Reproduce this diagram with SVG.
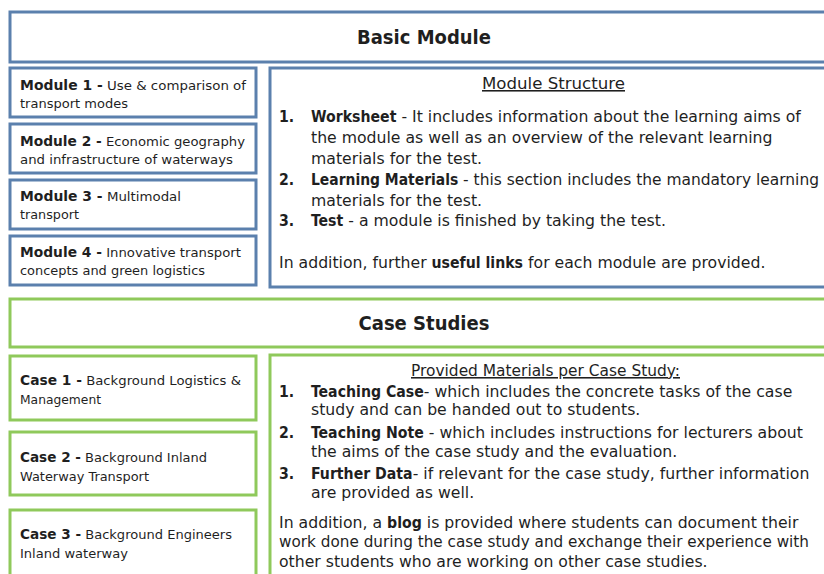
<svg xmlns="http://www.w3.org/2000/svg" width="824" height="574" viewBox="0 0 824 574">
<style>
text{font-family:"DejaVu Sans",sans-serif;fill:#1f1f1f}
.blue{fill:#fff;stroke:#5b80ad;stroke-width:3}
.green{fill:#fff;stroke:#8fc95b;stroke-width:3}
.title{font-family:"DejaVu Sans Condensed","DejaVu Sans",sans-serif;font-stretch:condensed;font-size:20px;font-weight:bold}
.lbl{font-size:12.5px}
.lb{font-family:"DejaVu Sans Condensed","DejaVu Sans",sans-serif;font-stretch:condensed;font-size:14.5px;font-weight:bold}
.body{font-size:15.7px}
.b{font-family:"DejaVu Sans Condensed","DejaVu Sans",sans-serif;font-stretch:condensed;font-weight:bold}
.u{text-decoration:underline}
</style>
<rect width="824" height="574" fill="#fff"/>
<g id="basic-module">
<rect class="blue" x="10" y="12" width="830" height="50"/>
<text class="title" x="424" y="44" text-anchor="middle">Basic Module</text>
</g>
<g id="module-1">
<rect class="blue" x="10" y="68" width="246" height="49"/>
<text class="lbl" x="20" y="90" textLength="226" lengthAdjust="spacingAndGlyphs"><tspan class="lb">Module 1 -</tspan> Use &amp; comparison of</text>
<text class="lbl" x="20" y="108" textLength="108" lengthAdjust="spacingAndGlyphs">transport modes</text>
</g>
<g id="module-2">
<rect class="blue" x="10" y="124" width="246" height="49"/>
<text class="lbl" x="20" y="146" textLength="225" lengthAdjust="spacingAndGlyphs"><tspan class="lb">Module 2 -</tspan> Economic geography</text>
<text class="lbl" x="20" y="164" textLength="213" lengthAdjust="spacingAndGlyphs">and infrastructure of waterways</text>
</g>
<g id="module-3">
<rect class="blue" x="10" y="180" width="246" height="49"/>
<text class="lbl" x="20" y="201" textLength="161" lengthAdjust="spacingAndGlyphs"><tspan class="lb">Module 3 -</tspan> Multimodal</text>
<text class="lbl" x="20" y="219" textLength="59" lengthAdjust="spacingAndGlyphs">transport</text>
</g>
<g id="module-4">
<rect class="blue" x="10" y="236" width="246" height="49"/>
<text class="lbl" x="20" y="257" textLength="221" lengthAdjust="spacingAndGlyphs"><tspan class="lb">Module 4 -</tspan> Innovative transport</text>
<text class="lbl" x="20" y="275" textLength="185" lengthAdjust="spacingAndGlyphs">concepts and green logistics</text>
</g>
<g id="module-structure">
<rect class="blue" x="270" y="68" width="570" height="219"/>
<text class="body u" x="553.5" y="89" text-anchor="middle" textLength="143" lengthAdjust="spacingAndGlyphs">Module Structure</text>
<text class="body b" x="279" y="121.5">1.</text>
<text class="body" x="311" y="121.5"><tspan class="b">Worksheet</tspan> - It includes information about the learning aims of</text>
<text class="body" x="311" y="142.5">the module as well as an overview of the relevant learning</text>
<text class="body" x="311" y="163.5">materials for the test.</text>
<text class="body b" x="279" y="184.5">2.</text>
<text class="body" x="311" y="184.5" textLength="508" lengthAdjust="spacingAndGlyphs"><tspan class="b">Learning Materials</tspan> - this section includes the mandatory learning</text>
<text class="body" x="311" y="205.5">materials for the test.</text>
<text class="body b" x="279" y="225.5">3.</text>
<text class="body" x="311" y="225.5"><tspan class="b">Test</tspan> - a module is finished by taking the test.</text>
<text class="body" x="279" y="267.5">In addition, further <tspan class="b">useful links</tspan> for each module are provided.</text>
</g>
<g id="case-studies">
<rect class="green" x="10" y="299" width="830" height="48"/>
<text class="title" x="424" y="330" text-anchor="middle">Case Studies</text>
</g>
<g id="case-1">
<rect class="green" x="10" y="356" width="246" height="64"/>
<text class="lbl" x="20" y="385" textLength="221" lengthAdjust="spacingAndGlyphs"><tspan class="lb">Case 1 -</tspan> Background Logistics &amp;</text>
<text class="lbl" x="20" y="404" textLength="81" lengthAdjust="spacingAndGlyphs">Management</text>
</g>
<g id="case-2">
<rect class="green" x="10" y="432" width="246" height="63"/>
<text class="lbl" x="20" y="462" textLength="187" lengthAdjust="spacingAndGlyphs"><tspan class="lb">Case 2 -</tspan> Background Inland</text>
<text class="lbl" x="20" y="481" textLength="129" lengthAdjust="spacingAndGlyphs">Waterway Transport</text>
</g>
<g id="case-3">
<rect class="green" x="10" y="510" width="246" height="80"/>
<text class="lbl" x="20" y="539" textLength="212" lengthAdjust="spacingAndGlyphs"><tspan class="lb">Case 3 -</tspan> Background Engineers</text>
<text class="lbl" x="20" y="558" textLength="108" lengthAdjust="spacingAndGlyphs">Inland waterway</text>
</g>
<g id="provided-materials">
<rect class="green" x="270" y="355" width="570" height="240"/>
<text class="body u" x="545.5" y="376" text-anchor="middle" textLength="269" lengthAdjust="spacingAndGlyphs">Provided Materials per Case Study:</text>
<text class="body b" x="279" y="397">1.</text>
<text class="body" x="311" y="397"><tspan class="b">Teaching Case</tspan>- which includes the concrete tasks of the case</text>
<text class="body" x="311" y="415">study and can be handed out to students.</text>
<text class="body b" x="279" y="438">2.</text>
<text class="body" x="311" y="438"><tspan class="b">Teaching Note</tspan> - which includes instructions for lecturers about</text>
<text class="body" x="311" y="457">the aims of the case study and the evaluation.</text>
<text class="body b" x="279" y="479">3.</text>
<text class="body" x="311" y="479"><tspan class="b">Further Data</tspan>- if relevant for the case study, further information</text>
<text class="body" x="311" y="498">are provided as well.</text>
<text class="body" x="279" y="528">In addition, a <tspan class="b">blog</tspan> is provided where students can document their</text>
<text class="body" x="279" y="547" textLength="530" lengthAdjust="spacingAndGlyphs">work done during the case study and exchange their experience with</text>
<text class="body" x="279" y="567">other students who are working on other case studies.</text>
</g>
</svg>
